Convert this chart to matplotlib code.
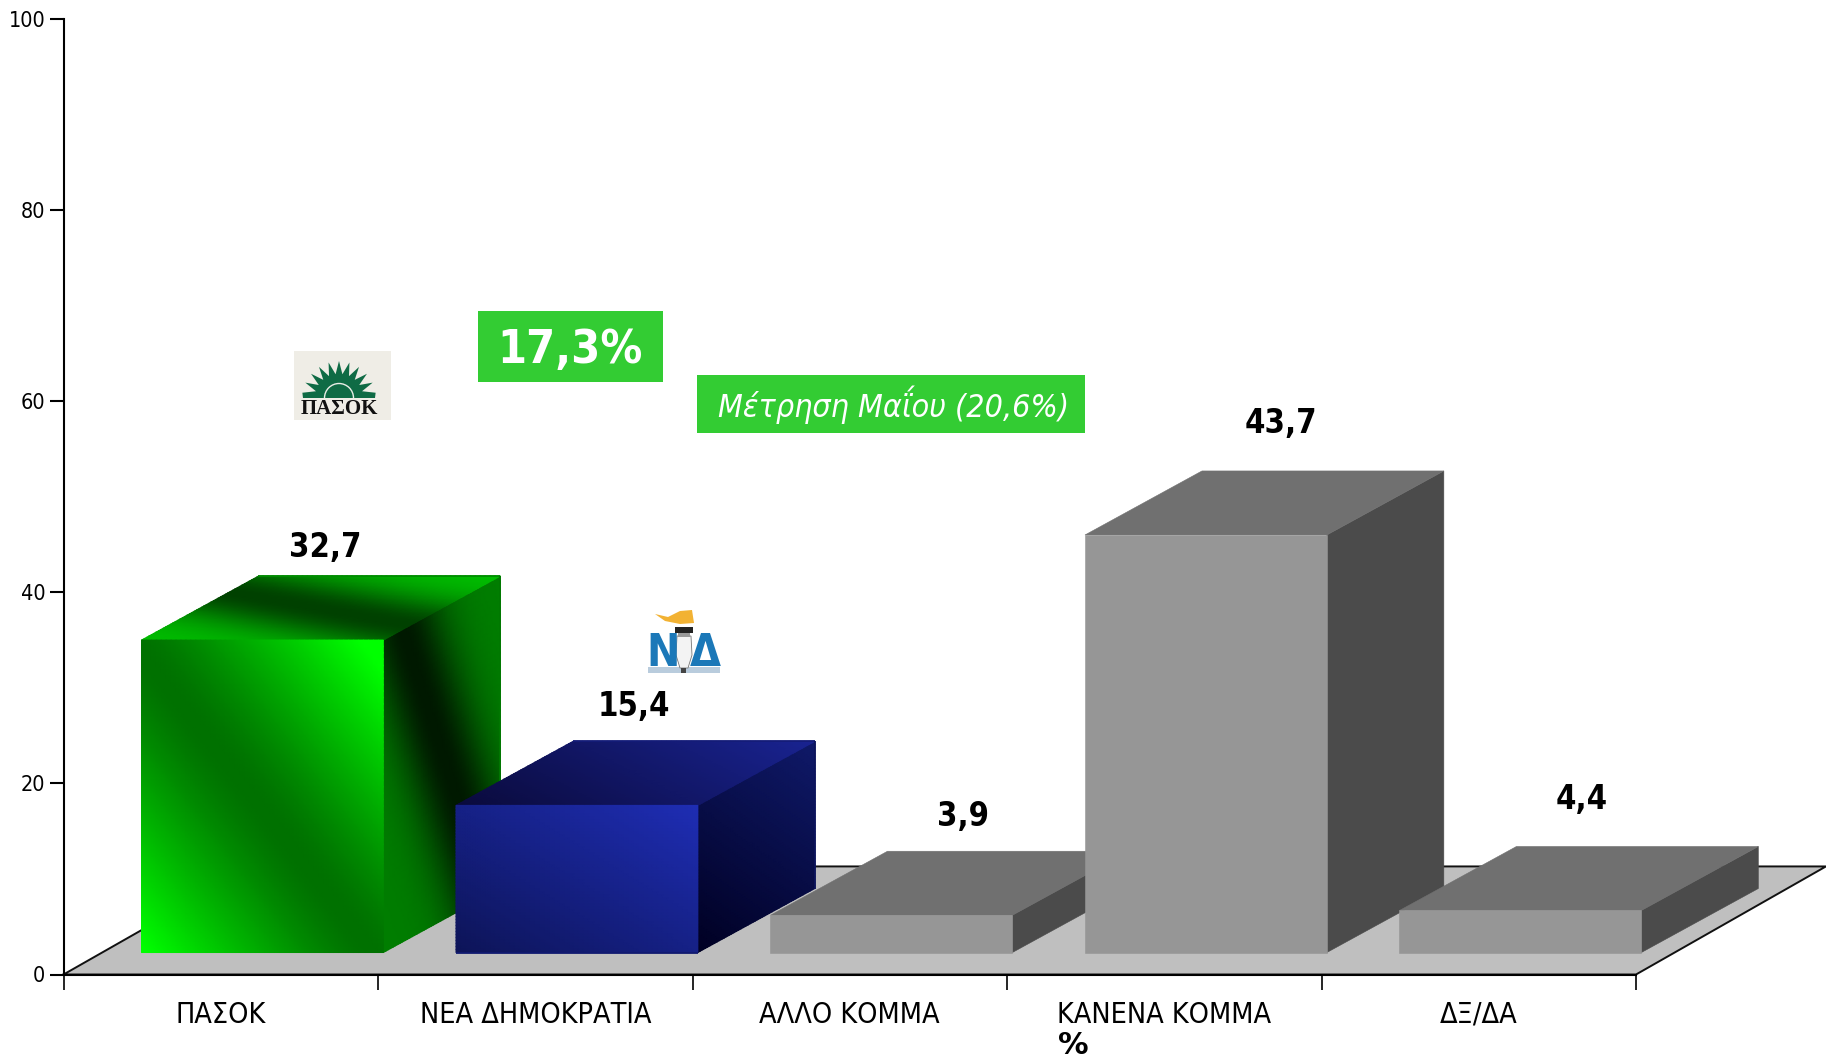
import numpy as np
import matplotlib
matplotlib.use("Agg")
import matplotlib.pyplot as plt
from matplotlib.colors import LinearSegmentedColormap
from matplotlib.patches import Polygon, Rectangle, Arc

categories = ["ΠΑΣΟΚ", "ΝΕΑ ΔΗΜΟΚΡΑΤΙΑ", "ΑΛΛΟ ΚΟΜΜΑ", "ΚΑΝΕΝΑ ΚΟΜΜΑ", "ΔΞ/ΔΑ"]
values = [32.7, 15.4, 3.9, 43.7, 4.4]
value_labels = ["32,7", "15,4", "3,9", "43,7", "4,4"]
y_ticks = [0, 20, 40, 60, 80, 100]
diff_label = "17,3%"
may_label = "Μέτρηση Μαΐου (20,6%)"
unit_label = "%"

# layout (data units)
bar_left = 0.248
bar_width = 0.769
base_y = 2.30
depth_x = 0.372
depth_y = 6.70
floor_x = 0.604
floor_y = 11.31
label_dx = [0.013, -0.005, 0.043, 0.052, 0.008]
label_dy = [2.95, 3.60, 3.60, 5.00, 4.90]

W, H = 1826, 1058
fig = plt.figure(figsize=(W / 100, H / 100), dpi=100, facecolor="white")
ax = fig.add_axes([63.5 / W, 1 - 974.5 / H, (1636 - 63.5) / W, (974.5 - 19) / H])
ax.set_xlim(0, 5)
ax.set_ylim(0, 100)
ax.patch.set_visible(False)
for s in ("top", "right"):
    ax.spines[s].set_visible(False)
for s in ("left", "bottom"):
    ax.spines[s].set_linewidth(1.5)
    ax.spines[s].set_zorder(2.5)


def cond(weight="normal", style="normal", stretch="condensed"):
    return dict(family="DejaVu Sans", weight=weight, style=style, stretch=stretch)


ax.set_yticks(y_ticks)
ax.set_yticklabels([str(v) for v in y_ticks], fontsize=15.5, **cond())
ax.set_xticks(range(6))
ax.set_xticklabels([""] * 6)
ax.set_xticks(np.arange(5) + 0.5, categories, minor=True, fontsize=20.6, **cond())
ax.tick_params(axis="y", length=10, width=1.5, pad=3)
ax.tick_params(axis="x", which="major", length=10.5, width=1.2)
ax.tick_params(axis="x", which="minor", length=0, pad=19)

# floor
ax.add_patch(Polygon([(0, 0), (5, 0), (5 + floor_x, floor_y), (floor_x, floor_y)],
                     closed=True, fc="#BFBFBF", ec="none", clip_on=False, zorder=1))
ax.plot([0, 5, 5 + floor_x, floor_x, 0], [0, 0, floor_y, floor_y, 0], color="#111111",
        lw=1.4, clip_on=False, zorder=1.5, solid_joinstyle="miter")

z = [3.0]


def nz():
    z[0] += 0.01
    return z[0]


def grad_face(p0, pu, pv, func, cmap):
    """p0 corner, pu/pv edge vectors (data units); func(u, v) -> 0..1"""
    n = 50
    u, v = np.meshgrid(np.linspace(0, 1, n), np.linspace(0, 1, n))
    X = p0[0] + u * pu[0] + v * pv[0]
    Y = p0[1] + u * pu[1] + v * pv[1]
    m = ax.pcolormesh(X, Y, func(u, v), shading="gouraud", cmap=cmap, vmin=0, vmax=1, zorder=nz())
    m.set_clip_on(False)


def edge(pa, pb, color):
    ax.plot([pa[0], pb[0]], [pa[1], pb[1]], color=color, lw=1.3, clip_on=False, zorder=nz(),
            solid_capstyle="butt")


def flat_face(pts, color):
    ax.add_patch(Polygon(pts, closed=True, fc=color, ec=color, lw=0.4, clip_on=False, zorder=nz()))


green_cm = LinearSegmentedColormap.from_list("g", [(0, 0, 0), (0, 1, 0)])
blue_front_cm = LinearSegmentedColormap.from_list("bf", ["#0D1458", "#1E2DB4"])
blue_top_cm = LinearSegmentedColormap.from_list("bt", ["#0A0A3C", "#192391"])
blue_side_cm = LinearSegmentedColormap.from_list("bs", ["#000023", "#0F1969"])


def g_front(u, v):
    d = np.sqrt((u - v + 0.04) ** 2 + 0.012)
    return np.clip((100 + 165 * d ** 1.15) / 255, 0, 1)


def g_side(u, v):
    uc = 0.17 + 0.73 * v
    return (25 + 100 * (1 - np.exp(-((u - uc) / 0.33) ** 2))) / 255


def g_top(u, v):
    vc = 0.25 + 0.52 * u
    return (65 + 125 * (1 - np.exp(-((v - vc) / 0.38) ** 2))) / 255


def diag(u, v):
    return (u + 1 - v) / 2


for i, val in enumerate(values):
    x0 = i + bar_left
    x1 = x0 + bar_width
    y0 = base_y
    y1 = base_y + val
    if i == 0:
        grad_face((x1, y1), (depth_x, depth_y), (0, -val), g_side, green_cm)
        grad_face((x0 + depth_x, y1 + depth_y), (bar_width, 0), (-depth_x, -depth_y), g_top, green_cm)
        edge((x0 + depth_x, y1 + depth_y), (x1 + depth_x, y1 + depth_y), "#008C00")
        edge((x1 + depth_x, y0 + depth_y), (x1 + depth_x, y1 + depth_y), "#007800")
        grad_face((x0, y1), (bar_width, 0), (0, -val), g_front, green_cm)
    elif i == 1:
        grad_face((x1, y1), (depth_x, depth_y), (0, -val), diag, blue_side_cm)
        grad_face((x0 + depth_x, y1 + depth_y), (bar_width, 0), (-depth_x, -depth_y), diag, blue_top_cm)
        edge((x0 + depth_x, y1 + depth_y), (x1 + depth_x, y1 + depth_y), "#141C78")
        edge((x1 + depth_x, y0 + depth_y), (x1 + depth_x, y1 + depth_y), "#0C145C")
        grad_face((x0, y1), (bar_width, 0), (0, -val), diag, blue_front_cm)
        edge((x0, y0), (x1, y0), "#111A70")
    else:
        flat_face([(x1, y0), (x1 + depth_x, y0 + depth_y), (x1 + depth_x, y1 + depth_y), (x1, y1)], "#4B4B4B")
        flat_face([(x0, y1), (x1, y1), (x1 + depth_x, y1 + depth_y), (x0 + depth_x, y1 + depth_y)], "#707070")
        flat_face([(x0, y0), (x1, y0), (x1, y1), (x0, y1)], "#969696")
    ax.text(x0 + (bar_width + depth_x) / 2 + label_dx[i], y1 + depth_y + label_dy[i], value_labels[i],
            ha="center", va="center", fontsize=23.5, color="black", zorder=20, **cond(weight="bold"))

# overlay in pixel space: call-outs and party marks
ov = fig.add_axes([0, 0, 1, 1], zorder=10)
ov.set_xlim(0, W)
ov.set_ylim(H, 0)
ov.axis("off")

ov.add_patch(Rectangle((478, 311), 185, 71, fc="#33CC33", ec="none"))
ov.text(570.5, 351, diff_label, color="white", fontsize=33.5, ha="center", va="center", **cond(weight="bold"))
ov.add_patch(Rectangle((697, 375), 388, 58, fc="#33CC33", ec="none"))
ov.text(894, 405, may_label, color="white", fontsize=23, ha="center", va="center", **cond(style="oblique"))
ov.text(1058, 1054, unit_label, fontsize=22, ha="left", va="baseline", family="DejaVu Sans", weight="bold")

# ΠΑΣΟΚ mark
ov.add_patch(Rectangle((294, 351), 97, 69, fc="#EFEDE6", ec="none"))
cx, cy = 339, 398
n_tips = 11
ang = np.linspace(np.pi, 0, 2 * n_tips + 1)
rad = np.where(np.arange(2 * n_tips + 1) % 2 == 0, 24.0, 37.0)
rad[0] = rad[-1] = 36
pts = np.c_[cx + rad * np.cos(ang), cy - rad * np.sin(ang)]
ov.add_patch(Polygon(pts, closed=True, fc="#0F6B45", ec="none"))
ov.add_patch(Arc((cx, cy), 29, 29, theta1=180, theta2=360, ec="#E9EDE6", lw=1.0))
ov.text(339.5, 409, "ΠΑΣΟΚ", family="Liberation Serif", weight="bold", fontsize=15, ha="center", va="center", color="#111111")

# ΝΔ mark
ov.add_patch(Rectangle((648, 667), 72, 6, fc="#B9CCDD", ec="none"))
ov.text(663, 654, "Ν", color="#1B78B8", fontsize=32, ha="center", va="center", **cond(weight="bold"))
ov.text(705, 653, "Δ", color="#1B78B8", fontsize=32, ha="center", va="center", **cond(weight="bold"))
ov.add_patch(Polygon([(655, 614), (668, 617), (680, 611), (692, 610), (694, 623), (680, 624), (665, 621)],
                     closed=True, fc="#F2B233", ec="none"))
ov.add_patch(Polygon([(677, 636), (691, 636), (692, 655), (688, 668), (680, 668), (676, 655)],
                     closed=True, fc="#F3F3F3", ec="#777777", lw=0.6))
ov.add_patch(Rectangle((675, 627), 18, 6, fc="#222222", ec="none"))
ov.add_patch(Rectangle((678, 633), 12, 4, fc="#999999", ec="none"))
ov.add_patch(Rectangle((681, 668), 5, 5, fc="#444444", ec="none"))

fig.savefig("out.png", dpi=100, facecolor="white")
